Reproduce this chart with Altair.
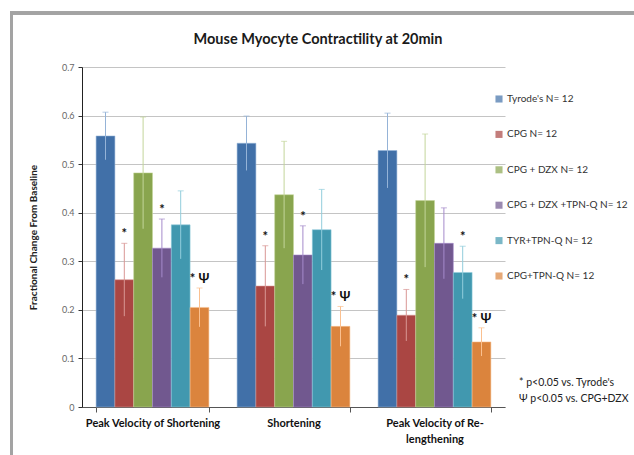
import altair as alt
import pandas as pd

# Measures on the x axis
groups = ["Peak Velocity of Shortening", "Shortening", "Peak Velocity of Re-lengthening"]

# Treatment series (legend order)
series = [
    "Tyrode's N= 12",
    "CPG  N= 12",
    "CPG + DZX  N= 12",
    "CPG + DZX +TPN-Q  N= 12",
    "TYR+TPN-Q  N= 12",
    "CPG+TPN-Q  N= 12",
]
bar_colors = ["#4170A8", "#AA4643", "#89A54E", "#71588F", "#4198AF", "#DB843D"]
err_colors = ["#95B3D7", "#D99694", "#C3D69B", "#A58BCB", "#92CDDC", "#FAC090"]

# Mean fractional change per measure, one value per series
pv_shortening = [0.558, 0.262, 0.482, 0.327, 0.375, 0.205]
shortening = [0.543, 0.249, 0.437, 0.313, 0.365, 0.166]
pv_relengthening = [0.528, 0.189, 0.425, 0.337, 0.277, 0.134]

# Error bar half-widths
pv_shortening_err = [0.049, 0.075, 0.115, 0.060, 0.070, 0.040]
shortening_err = [0.056, 0.083, 0.110, 0.060, 0.083, 0.041]
pv_relengthening_err = [0.077, 0.053, 0.137, 0.073, 0.054, 0.029]

# Significance markers above each bar
pv_shortening_sig = ["", "*", "", "*", "", "* Ψ"]
shortening_sig = ["", "*", "", "*", "", "* Ψ"]
pv_relengthening_sig = ["", "*", "", "", "*", "* Ψ"]

title_text = "Mouse Myocyte Contractility at 20min"
footnotes = ["* p<0.05 vs. Tyrode's", "Ψ p<0.05 vs. CPG+DZX"]

means = [pv_shortening, shortening, pv_relengthening]
errs = [pv_shortening_err, shortening_err, pv_relengthening_err]
sigs = [pv_shortening_sig, shortening_sig, pv_relengthening_sig]

rows = []
for g, m, e, s in zip(groups, means, errs, sigs):
    for i, name in enumerate(series):
        rows.append({
            "group": g,
            "series": name,
            "order": i,
            "value": m[i],
            "lo": m[i] - e[i],
            "hi": m[i] + e[i],
            "sig": s[i],
            "errc": err_colors[i],
        })
df = pd.DataFrame(rows)

FONT = "Lato"

x_enc = alt.X(
    "group:N",
    sort=groups,
    scale=alt.Scale(paddingInner=0.2, paddingOuter=0.1),
    axis=alt.Axis(
        title=None,
        labelAngle=0,
        labelFont=FONT,
        labelFontWeight="bold",
        labelFontSize=11,
        labelColor="#111111",
        labelPadding=5,
        labelLimit=200,
        labelExpr="datum.label == 'Peak Velocity of Re-lengthening' ? ['Peak Velocity of Re-', 'lengthening'] : datum.label",
        labelLineHeight=16,
        tickBand="extent",
        tickSize=5,
        tickColor="#555555",
        domainColor="#555555",
        grid=False,
    ),
)
xoff = alt.XOffset("series:N", sort=series, scale=alt.Scale(domain=series))

y_scale = alt.Scale(domain=[0, 0.7], nice=False)

bars = alt.Chart(df).mark_bar(strokeWidth=0.8, strokeOpacity=0.7).encode(
    x=x_enc,
    xOffset=xoff,
    y=alt.Y(
        "value:Q",
        scale=y_scale,
        axis=alt.Axis(
            title="Fractional Change From Baseline",
            titleFont=FONT,
            titleFontWeight="bold",
            titleFontSize=10,
            titleColor="#222222",
            titleX=-49,
            titleY=170,
            titleBaseline="middle",
            titleAngle=-90,
            values=[0, 0.1, 0.2, 0.3, 0.4, 0.5, 0.6, 0.7],
            labelExpr="datum.value == 0 ? '0' : format(datum.value, '.1f')",
            labelFont=FONT,
            labelFontSize=9,
            labelColor="#666666",
            labelPadding=4,
            tickSize=4,
            tickColor="#333333",
            domainColor="#222222",
            gridColor="#C4C4C4",
            gridWidth=1,
        ),
    ),
    color=alt.Color(
        "series:N",
        scale=alt.Scale(domain=series, range=bar_colors),
        legend=alt.Legend(
            title=None,
            orient="none",
            legendX=412,
            legendY=27,
            symbolType="square",
            symbolSize=50,
            symbolStrokeWidth=0,
            labelFont=FONT,
            labelFontSize=10,
            labelColor="#333333",
            labelLimit=200,
            rowPadding=25.4,
            padding=0,
            labelOffset=3,
        ),
    ),
    stroke=alt.Stroke("errc:N", scale=None),
)

err_lines = alt.Chart(df).mark_rule(strokeWidth=1).encode(
    x=alt.X("group:N", sort=groups),
    xOffset=xoff,
    y=alt.Y("lo:Q", scale=y_scale),
    y2="hi:Q",
    color=alt.Color("errc:N", scale=None),
)

err_caps = alt.Chart(df).mark_tick(size=6, thickness=1, orient="horizontal").encode(
    x=alt.X("group:N", sort=groups),
    xOffset=xoff,
    y=alt.Y("hi:Q", scale=y_scale),
    color=alt.Color("errc:N", scale=None),
)

sig_text = alt.Chart(df).mark_text(
    font=FONT, fontSize=13, fontWeight="bold", color="#111111", dy=-9
).encode(
    x=alt.X("group:N", sort=groups),
    xOffset=xoff,
    y=alt.Y("hi:Q", scale=y_scale),
    text="sig:N",
)

# Footnote explaining the markers
notes = pd.DataFrame({"txt": footnotes, "ypos": [316, 332]})
footnote = alt.Chart(notes).mark_text(
    font=FONT, fontSize=10.5, color="#222222", align="left", baseline="middle"
).encode(
    x=alt.value(437),
    y=alt.Y("ypos:Q", scale=None),
    text="txt:N",
)

# Chart heading, centred over the whole figure
heading = alt.Chart(pd.DataFrame({"t": [title_text]})).mark_text(
    font=FONT, fontSize=14.5, fontWeight="bold", color="#1A1A1A",
    align="center", baseline="middle",
).encode(
    x=alt.value(236),
    y=alt.value(-27),
    text="t:N",
)

# Grey outer frame along the top and left edges
frame_top = alt.Chart(df).mark_rule(color="#A3A3A3", strokeWidth=3).encode(
    x=alt.value(-72), x2=alt.value(560), y=alt.value(-54)
)
frame_left = alt.Chart(df).mark_rule(color="#A3A3A3", strokeWidth=3).encode(
    x=alt.value(-70.5), y=alt.value(-55), y2=alt.value(400)
)

chart = alt.layer(
    frame_top, frame_left, bars, err_lines, err_caps, sig_text, footnote, heading
).properties(
    width=423,
    height=340,
    autosize=alt.AutoSizeParams(type="none"),
    padding={"left": 82, "top": 67, "right": 129, "bottom": 48},
    background="white",
).configure_view(stroke=None)

chart.save("out.html", embed_options={"renderer": "svg", "actions": False})
